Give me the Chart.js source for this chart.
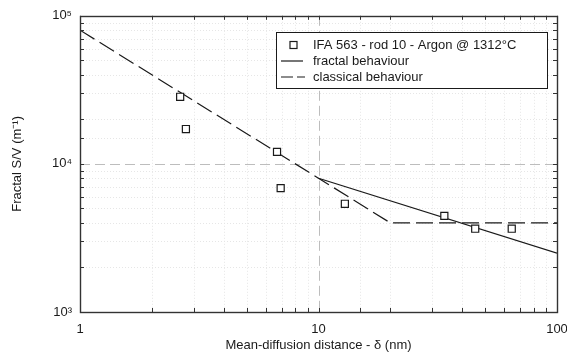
<!DOCTYPE html>
<html>
<head>
<meta charset="utf-8">
<title>Fractal S/V</title>
<script src="https://cdn.jsdelivr.net/npm/chart.js@4.4.1/dist/chart.umd.min.js"></script>
<style>
    html, body { margin: 0; padding: 0; background: #fff; }
</style>
</head>
<body>
<canvas id="svChart" width="567" height="356"></canvas>
<script>
// Measured points (mean-diffusion distance in nm, S/V in 1/m)
const deltaNm = [2.63, 2.78, 6.70, 6.94, 12.9, 33.7, 45.4, 64.6];
const surfaceVolume = [28400, 17200, 12050, 6860, 5380, 4460, 3650, 3650];

// Model lines
const fractalDelta = [10, 100];
const fractalSV = [8000, 2500];
const classicalDelta = [1, 20, 100];
const classicalSV = [80000, 4000, 4000];

// Decade tick labels
const xDecades = [1, 10, 100];
const xDecadeLabels = ['1', '10', '100'];
const yDecades = [1000, 10000, 100000];
const yDecadeLabels = ['10³', '10⁴', '10⁵'];

const legendLabels = [
    'IFA 563 - rod 10 - Argon @ 1312°C',
    'fractal behaviour',
    'classical behaviour'
];

const FONT = '"Liberation Sans", Arial, sans-serif';
const INK = '#1a1a1a';

function toPoints(xs, ys) {
    return xs.map((x, i) => ({ x, y: ys[i] }));
}

function strokeLine(ctx, x1, y1, x2, y2) {
    ctx.beginPath();
    ctx.moveTo(x1, y1);
    ctx.lineTo(x2, y2);
    ctx.stroke();
}

// Grid, plot frame, inside ticks and the boxed legend
const framePlugin = {
    id: 'frame',
    beforeDatasetsDraw(chart) {
        const { ctx, chartArea: a, scales: { x, y } } = chart;
        ctx.save();
        ctx.lineWidth = 1;

        // faint dotted minor grid
        ctx.strokeStyle = '#e6e6e6';
        ctx.setLineDash([1, 2]);
        x.ticks.forEach(t => {
            if (xDecades.includes(t.value)) return;
            const px = Math.round(x.getPixelForValue(t.value)) + 0.5;
            strokeLine(ctx, px, a.top, px, a.bottom);
        });
        y.ticks.forEach(t => {
            if (yDecades.includes(t.value)) return;
            const py = Math.round(y.getPixelForValue(t.value)) + 0.5;
            strokeLine(ctx, a.left, py, a.right, py);
        });

        // dashed lines at the inner decades
        ctx.strokeStyle = '#bdbdbd';
        ctx.setLineDash([10, 5]);
        xDecades.slice(1, -1).forEach(v => {
            const px = Math.round(x.getPixelForValue(v)) + 0.5;
            strokeLine(ctx, px, a.top, px, a.bottom);
        });
        yDecades.slice(1, -1).forEach(v => {
            const py = Math.round(y.getPixelForValue(v)) + 0.5;
            strokeLine(ctx, a.left, py, a.right, py);
        });
        ctx.restore();
    },
    afterDatasetsDraw(chart) {
        const { ctx, chartArea: a, scales: { x, y } } = chart;
        const len = 4;
        ctx.save();
        ctx.strokeStyle = '#333';
        ctx.lineWidth = 1;
        ctx.setLineDash([]);

        x.ticks.forEach(t => {
            const px = Math.round(x.getPixelForValue(t.value)) + 0.5;
            strokeLine(ctx, px, a.bottom, px, a.bottom - len);
            strokeLine(ctx, px, a.top, px, a.top + len);
        });
        y.ticks.forEach(t => {
            const py = Math.round(y.getPixelForValue(t.value)) + 0.5;
            strokeLine(ctx, a.left, py, a.left + len, py);
            strokeLine(ctx, a.right, py, a.right - len, py);
        });

        ctx.lineWidth = 1.4;
        ctx.strokeRect(Math.round(a.left) + 0.5, Math.round(a.top) + 0.5,
            Math.round(a.right - a.left), Math.round(a.bottom - a.top));
        ctx.restore();
    },
    afterDraw(chart) {
        const { ctx } = chart;
        const box = { left: 276, top: 32, right: 547, bottom: 88 };
        const rows = [45, 61, 77];
        const sampleX = 281, textX = 313;

        ctx.save();
        ctx.fillStyle = '#fff';
        ctx.fillRect(box.left, box.top, box.right - box.left, box.bottom - box.top);
        ctx.strokeStyle = INK;
        ctx.lineWidth = 1;
        ctx.strokeRect(box.left + 0.5, box.top + 0.5, box.right - box.left, box.bottom - box.top);

        // marker sample
        ctx.lineWidth = 1.2;
        ctx.strokeRect(290, rows[0] - 3.5, 7, 7);

        // line samples
        strokeLine(ctx, sampleX, rows[1], sampleX + 22, rows[1]);
        ctx.setLineDash([12, 4]);
        strokeLine(ctx, sampleX, rows[2], sampleX + 24, rows[2]);
        ctx.setLineDash([]);

        ctx.fillStyle = INK;
        ctx.font = '13px ' + FONT;
        ctx.textBaseline = 'middle';
        legendLabels.forEach((label, i) => ctx.fillText(label, textX, rows[i]));
        ctx.restore();
    }
};

function buildChart() {
    const ctx = document.getElementById('svChart');

    new Chart(ctx, {
        type: 'scatter',
        data: {
            datasets: [{
                label: legendLabels[0],
                data: toPoints(deltaNm, surfaceVolume),
                pointStyle: 'rect',
                pointRadius: 5,
                pointBorderWidth: 1.2,
                pointBorderColor: INK,
                pointBackgroundColor: '#fff',
                showLine: false
            }, {
                label: legendLabels[1],
                data: toPoints(fractalDelta, fractalSV),
                showLine: true,
                borderColor: INK,
                borderWidth: 1.2,
                pointRadius: 0
            }, {
                label: legendLabels[2],
                data: toPoints(classicalDelta, classicalSV),
                showLine: true,
                borderColor: INK,
                borderWidth: 1.2,
                borderDash: [17, 6],
                pointRadius: 0
            }]
        },
        options: {
            responsive: false,
            animation: false,
            devicePixelRatio: 1,
            layout: { padding: { top: 13, right: 0, left: 0, bottom: 0 } },
            plugins: {
                legend: { display: false },
                tooltip: { enabled: false }
            },
            scales: {
                x: {
                    type: 'logarithmic',
                    min: 1,
                    max: 100,
                    grid: { display: false, drawTicks: false },
                    border: { display: false },
                    afterFit: scale => {
                        scale.height = 44;
                        scale.paddingRight = 10;
                    },
                    ticks: {
                        autoSkip: false,
                        maxRotation: 0,
                        padding: 10,
                        color: INK,
                        font: { family: FONT, size: 13 },
                        callback: value => {
                            const i = xDecades.indexOf(value);
                            return i >= 0 ? xDecadeLabels[i] : '';
                        }
                    },
                    title: {
                        display: true,
                        text: 'Mean-diffusion distance - δ (nm)',
                        color: INK,
                        font: { family: FONT, size: 13 },
                        padding: { top: 0, bottom: 3 }
                    }
                },
                y: {
                    type: 'logarithmic',
                    min: 1000,
                    max: 100000,
                    grid: { display: false, drawTicks: false },
                    border: { display: false },
                    afterFit: scale => { scale.width = 80; },
                    ticks: {
                        autoSkip: false,
                        padding: 8,
                        color: INK,
                        font: { family: FONT, size: 13 },
                        callback: value => {
                            const i = yDecades.indexOf(value);
                            return i >= 0 ? yDecadeLabels[i] : '';
                        }
                    },
                    title: {
                        display: true,
                        text: 'Fractal S/V (m⁻¹)',
                        color: INK,
                        font: { family: FONT, size: 13 },
                        padding: { top: 10, bottom: 0 }
                    }
                }
            }
        },
        plugins: [framePlugin]
    });
}

document.addEventListener('DOMContentLoaded', buildChart);
</script>
</body>
</html>
